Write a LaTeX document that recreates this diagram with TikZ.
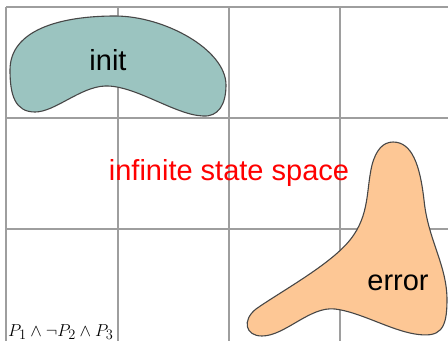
\documentclass[tikz,border=0pt]{standalone}
\usepackage{fontspec}
\setmainfont{Liberation Sans}
\begin{document}
\begin{tikzpicture}[x=1pt,y=-1pt,
  gridline/.style={draw=black!38,line width=1.4pt},
  blob/.style={draw=black!72,line width=1.1pt},
  bigtext/.style={font=\fontsize{29}{30}\selectfont,inner sep=0pt}]
\definecolor{initfill}{RGB}{155,196,192}
\definecolor{errfill}{RGB}{253,199,149}
\useasboundingbox (0,0) rectangle (448,341);
% grid
\foreach \y in {7,118,229} \draw[gridline] (6,\y) -- (448,\y);
\foreach \x in {6,118,229,340} \draw[gridline] (\x,7) -- (\x,341);
% init blob
\path[blob,fill=initfill] (10,70)
  .. controls (10,30) and (60,16) .. (115,16)
  .. controls (165,16) and (226,50) .. (226,85)
  .. controls (226,105) and (218,117) .. (203,116)
  .. controls (175,115) and (135,85) .. (105,86)
  .. controls (80,87) and (55,112) .. (35,112)
  .. controls (15,112) and (10,95) .. (10,70) -- cycle;
% error blob
\path[blob,fill=errfill] (393,142)
  .. controls (412,142) and (420,165) .. (424,200)
  .. controls (428,240) and (447,265) .. (447,300)
  .. controls (447,330) and (440,338) .. (415,334)
  .. controls (390,330) and (360,312) .. (335,309)
  .. controls (310,306) and (285,336) .. (262,336)
  .. controls (245,336) and (242,320) .. (256,309)
  .. controls (280,292) and (330,265) .. (350,240)
  .. controls (370,215) and (366,190) .. (372,165)
  .. controls (376,150) and (383,142) .. (393,142) -- cycle;
\node[bigtext] (init) at (108,60) {init};
\node[bigtext,text=red] (space) at (229,173) {infinite state space};
\node[bigtext] (err) at (398,283) {error};
\node[anchor=base west,inner sep=0pt,font=\fontsize{19}{19}\selectfont] (pred) at (8,336) {$P_1\wedge\neg P_2\wedge P_3$};
\end{tikzpicture}
\end{document}
